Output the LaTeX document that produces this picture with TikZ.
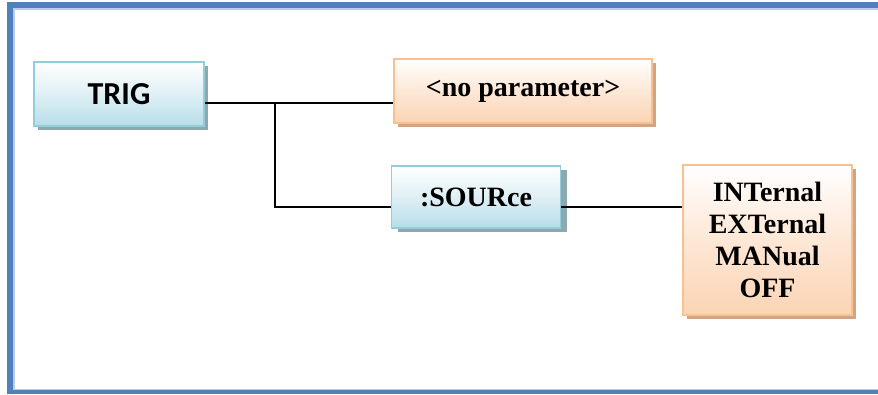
\documentclass[tikz,border=0pt]{standalone}
\usepackage{fontspec}
\setmainfont{Liberation Serif}
\newfontfamily\calfont{Carlito}
\definecolor{frameblue}{HTML}{4F81BD}
\definecolor{framelight}{HTML}{B9CDE5}
\definecolor{bluebot}{HTML}{B7DDE8}
\definecolor{blueedge}{HTML}{92CDDC}
\definecolor{blueshadow}{HTML}{8EA8B0}
\definecolor{orangebot}{HTML}{FBD4B4}
\definecolor{orangeedge}{HTML}{FAC090}
\definecolor{orangeshadow}{HTML}{CFA586}
\tikzset{
  bluebox/.style={draw=blueedge, line width=1.6pt, top color=white, bottom color=bluebot, middle color=bluebot!45,
    inner sep=0pt, align=center},
  orangebox/.style={draw=orangeedge, line width=1.6pt, top color=white, bottom color=orangebot, middle color=orangebot!55,
    inner sep=0pt, align=center},
  conn/.style={line width=1.5pt, black},
  serifbold/.style={font=\fontsize{28}{32}\selectfont\bfseries},
  calbox/.style={font=\calfont\fontsize{32}{34}\selectfont\bfseries}
}
\begin{document}
\begin{tikzpicture}[x=1pt,y=-1pt]
\useasboundingbox (0,0) rectangle (878,394);
\fill[white] (0,0) rectangle (878,394);
% frame
\fill[framelight] (13,8) rectangle (878,9.5);
\fill[framelight] (13,9) rectangle (14.5,390);
\fill[framelight] (13,388.5) rectangle (878,390);
\fill[frameblue] (7,2) rectangle (878,8);
\fill[frameblue] (7,2) rectangle (13,394);
\fill[frameblue] (7,390) rectangle (878,394);
% shadows
\fill[blueshadow] (38,66) rectangle (207.5,130);
\fill[orangeshadow] (398,63) rectangle (655.5,127);
\fill[blueshadow] (398,170) rectangle (566.5,232);
\fill[orangeshadow] (687,169) rectangle (855.5,319);
% nodes
\node[bluebox, calbox, minimum width=170pt, minimum height=64pt] (trig) at (119,94) {TRIG};
\node[orangebox, serifbold, minimum width=258pt, minimum height=64pt] (noparam) at (523,91) {<no parameter>};
\node[bluebox, serifbold, minimum width=169pt, minimum height=62pt] (source) at (476,197) {:SOURce};
\node[orangebox, serifbold, minimum width=169pt, minimum height=150pt] (opts) at (767.5,240) {INTernal\\EXTernal\\MANual\\OFF};
% connectors
\coordinate (j1) at (275,103);
\coordinate (j2) at (275,207);
\draw[conn] (trig.east |- j1) -- (noparam.west |- j1);
\draw[conn] (j1) -- (j2) -- (source.west |- j2);
\draw[conn] (source.east |- j2) -- (opts.west |- j2);
\end{tikzpicture}
\end{document}
